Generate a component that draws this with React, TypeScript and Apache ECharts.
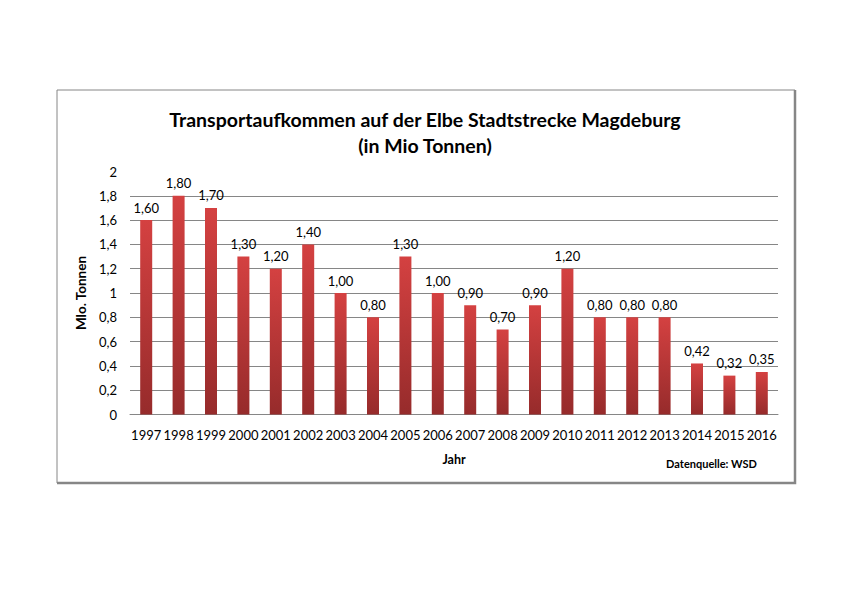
import React, { useEffect, useRef } from 'react';
import * as echarts from 'echarts';

const years = [
  '1997', '1998', '1999', '2000', '2001', '2002', '2003', '2004', '2005', '2006',
  '2007', '2008', '2009', '2010', '2011', '2012', '2013', '2014', '2015', '2016',
];
const tonnen = [
  1.6, 1.8, 1.7, 1.3, 1.2, 1.4, 1.0, 0.8, 1.3, 1.0,
  0.9, 0.7, 0.9, 1.2, 0.8, 0.8, 0.8, 0.42, 0.32, 0.35,
];

const FONT = 'Lato, "Open Sans", sans-serif';
const GRID_GRAY = '#868686';

const App: React.FC = () => {
  const chartRef = useRef<HTMLDivElement>(null);

  useEffect(() => {
    if (!chartRef.current) return undefined;
    const chart = echarts.init(chartRef.current, undefined, { renderer: 'svg' });

    chart.setOption({
      animation: false,
      backgroundColor: '#ffffff',
      title: {
        text: 'Transportaufkommen auf der Elbe Stadtstrecke Magdeburg\n(in Mio Tonnen)',
        left: 420,
        top: 101,
        textAlign: 'center',
        textStyle: {
          fontFamily: FONT,
          fontSize: 19.5,
          fontWeight: 'bold',
          color: '#000',
          lineHeight: 26,
        },
      },
      grid: { left: 130, right: 64, top: 171.5, bottom: 180.5 },
      xAxis: {
        type: 'category',
        data: years,
        name: 'Jahr',
        nameLocation: 'middle',
        nameGap: 38,
        nameTextStyle: { fontFamily: FONT, fontSize: 12.5, fontWeight: 'bold', color: '#000' },
        axisLine: { lineStyle: { color: GRID_GRAY } },
        axisTick: { show: false },
        axisLabel: {
          interval: 0,
          margin: 14,
          fontFamily: FONT,
          fontSize: 13,
          color: '#000',
        },
      },
      yAxis: {
        type: 'value',
        min: 0,
        max: 2,
        interval: 0.2,
        name: 'Mlo. Tonnen',
        nameLocation: 'middle',
        nameRotate: 90,
        nameGap: 40,
        nameTextStyle: { fontFamily: FONT, fontSize: 13.5, fontWeight: 'bold', color: '#000' },
        axisLine: { show: false },
        axisTick: { show: false },
        splitLine: { showMaxLine: false, lineStyle: { color: GRID_GRAY } },
        axisLabel: {
          margin: 13,
          fontFamily: FONT,
          fontSize: 13,
          color: '#000',
          formatter: (v: number) => String(Math.round(v * 10) / 10).replace('.', ','),
        },
      },
      series: [
        {
          type: 'bar',
          data: tonnen,
          barWidth: 12,
          itemStyle: {
            color: new echarts.graphic.LinearGradient(0, 0, 0, 1, [
              { offset: 0, color: '#d44141' },
              { offset: 1, color: '#962b2b' },
            ]),
          },
          label: {
            show: true,
            position: 'top',
            distance: 6,
            fontFamily: FONT,
            fontSize: 13,
            color: '#000',
            formatter: (p: any) => p.value.toFixed(2).replace('.', ','),
          },
        },
      ],
      graphic: [
        {
          type: 'rect',
          shape: { x: 57, y: 90, width: 738, height: 393 },
          style: { fill: 'none', stroke: GRID_GRAY, lineWidth: 1 },
          silent: true,
        },
        {
          type: 'polyline',
          shape: { points: [[795, 90], [795, 483], [57, 483]] },
          style: { fill: 'none', stroke: GRID_GRAY, lineWidth: 2.5 },
          silent: true,
        },
        {
          type: 'text',
          right: 842 - 757,
          top: 458,
          style: {
            text: 'Datenquelle: WSD',
            fontFamily: FONT,
            fontSize: 11,
            fontWeight: 'bold',
            fill: '#000',
          },
        },
      ],
    });

    return () => {
      chart.dispose();
    };
  }, []);

  return (
    <div
      ref={chartRef}
      style={{ position: 'fixed', left: 0, top: 0, width: '842px', height: '595px' }}
    />
  );
};

export default App;
